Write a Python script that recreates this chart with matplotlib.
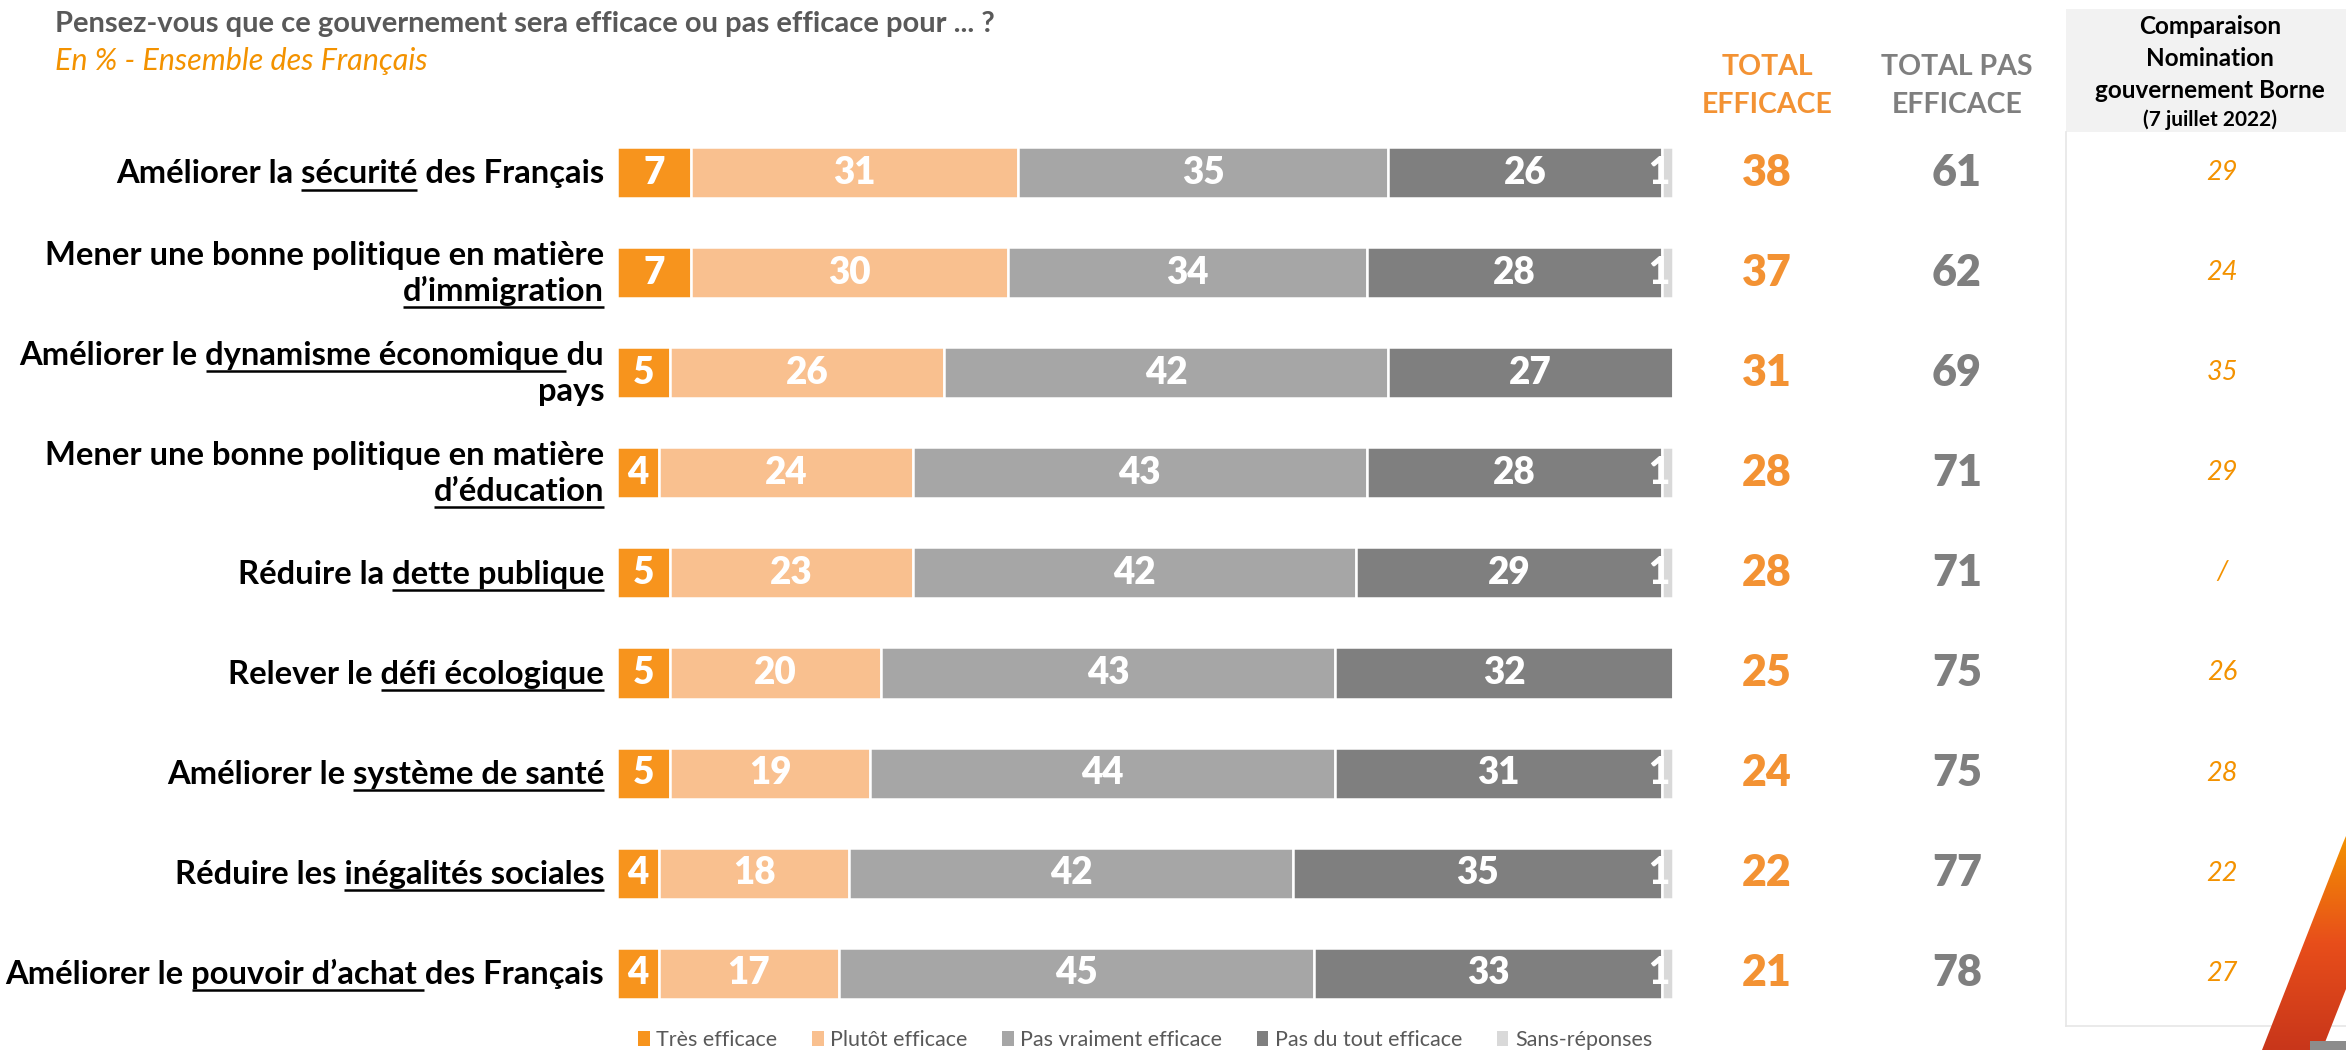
import matplotlib
matplotlib.use('Agg')
import matplotlib.pyplot as plt
import matplotlib.patches as mpatches
import matplotlib.transforms as mtransforms
from matplotlib.colors import LinearSegmentedColormap
import numpy as np

# Data (underscored part = underlined in the label, \n = line break)
categories = [
    "Améliorer la _sécurité_ des Français",
    "Mener une bonne politique en matière\n_d’immigration_",
    "Améliorer le _dynamisme économique _du\npays",
    "Mener une bonne politique en matière\n_d’éducation_",
    "Réduire la _dette publique_",
    "Relever le _défi écologique_",
    "Améliorer le _système de santé_",
    "Réduire les _inégalités sociales_",
    "Améliorer le _pouvoir d’achat _des Français",
]
tres_efficace = [7, 7, 5, 4, 5, 5, 5, 4, 4]
plutot_efficace = [31, 30, 26, 24, 23, 20, 19, 18, 17]
pas_vraiment = [35, 34, 42, 43, 42, 43, 44, 42, 45]
pas_du_tout = [26, 28, 27, 28, 29, 32, 31, 35, 33]
sans_reponse = [1, 1, 0, 1, 1, 0, 1, 1, 1]
total_efficace = [38, 37, 31, 28, 28, 25, 24, 22, 21]
total_pas_efficace = [61, 62, 69, 71, 71, 75, 75, 77, 78]
comparaison = ["29", "24", "35", "29", "/", "26", "28", "22", "27"]

series_names = ["Très efficace", "Plutôt efficace", "Pas vraiment efficace",
                "Pas du tout efficace", "Sans-réponses"]
series_colors = ["#f7941d", "#f9c08f", "#a6a6a6", "#7f7f7f", "#d9d9d9"]

FONT = ['Lato', 'DejaVu Sans']
ORANGE = '#f39233'
GREY_TXT = '#7f7f7f'

W, H = 2346, 1050
fig = plt.figure(figsize=(W / 100, H / 100), dpi=100)
fig.patch.set_facecolor('white')

# overlay axes in pixel coordinates for layout / text
ov = fig.add_axes([0, 0, 1, 1])
ov.set_xlim(0, W)
ov.set_ylim(H, 0)
ov.set_autoscale_on(False)
ov.axis('off')

# bar axes
ROW0, STEP = 172.5, 100.1
n = len(categories)
top = ROW0 - STEP / 2
bottom = ROW0 + STEP * (n - 0.5)
BAR_L, BAR_R = 617, 1673
ax = fig.add_axes([BAR_L / W, 1 - bottom / H, (BAR_R - BAR_L) / W, (bottom - top) / H])
ax.set_xlim(0, 100)
ax.set_ylim(n - 0.5, -0.5)
ax.axis('off')
ax.patch.set_alpha(0)

y = np.arange(n)
series = [tres_efficace, plutot_efficace, pas_vraiment, pas_du_tout, sans_reponse]
left = np.zeros(n)
containers = []
for name, vals, col in zip(series_names, series, series_colors):
    vals = np.array(vals, dtype=float)
    bc = ax.barh(y, vals, left=left, height=0.51, color=col, edgecolor='white',
                 linewidth=1.8, label=name, zorder=2)
    containers.append(bc)
    left = left + vals

# segment labels
SEG_SIZE = 26.5
SEG_WEIGHT = 'heavy'
left = np.zeros(n)
for k, vals in enumerate(series):
    for i, v in enumerate(vals):
        if v <= 0:
            continue
        if k == 4:
            t = ax.text(left[i] - 0.35, i, str(v), ha='center', va='center',
                        color='white', fontsize=SEG_SIZE, fontweight=SEG_WEIGHT,
                        family=FONT, zorder=3)
            t.set_clip_path(containers[3].patches[i])
        else:
            ax.text(left[i] + v / 2, i, str(v), ha='center', va='center',
                    color='white', fontsize=SEG_SIZE, fontweight=SEG_WEIGHT,
                    family=FONT, zorder=3)
        left[i] += v

# category labels with underlines
renderer = fig.canvas.get_renderer()
LBL_SIZE = 23.6
LBL_X = 604


def text_width(s):
    t = ov.text(0, 0, s, fontsize=LBL_SIZE, fontweight='bold', family=FONT)
    w = t.get_window_extent(renderer).width
    t.remove()
    return w


for i, cat in enumerate(categories):
    cy = ROW0 + STEP * i
    lines = cat.split('\n')
    if len(lines) == 1:
        baselines = [cy + 11]
    else:
        baselines = [cy - 8, cy + 28]
    for line, bl in zip(lines, baselines):
        parts = line.split('_')
        plain = ''.join(parts)
        ov.text(LBL_X, bl, plain, ha='right', va='baseline', fontsize=LBL_SIZE,
                fontweight='bold', family=FONT, color='black')
        if len(parts) == 3:
            a = len(parts[0])
            b = a + len(parts[1])
            wfull = text_width(plain)
            x0 = LBL_X - wfull
            u0 = LBL_X - text_width(plain[a:])
            if b >= len(plain):
                u1 = LBL_X
            elif plain[b - 1] == ' ':
                u1 = LBL_X - text_width(plain[b:]) - 1
            else:
                u1 = x0 + text_width(plain[:b])
            ov.plot([u0, u1], [bl + 6, bl + 6], color='black', lw=1.8,
                    solid_capstyle='butt')

# title / subtitle
ov.text(55, 32, "Pensez-vous que ce gouvernement sera efficace ou pas efficace pour ... ?",
        ha='left', va='baseline', fontsize=21, fontweight='bold',
        family=FONT, color='#595959')
ov.text(55, 70, "En % - Ensemble des Français", ha='left', va='baseline',
        fontsize=22, style='italic', family=FONT, color='#f39200')

# total columns
COL_EFF, COL_PAS, COL_CMP = 1767, 1957, 2222
tr = mtransforms.blended_transform_factory(ov.transData, ax.transData)
for txt, bl in [("TOTAL", 75), ("EFFICACE", 113)]:
    ov.text(COL_EFF, bl, txt, ha='center', va='baseline', fontsize=20.5,
            fontweight='bold', family=FONT, color=ORANGE)
for txt, bl in [("TOTAL PAS", 75), ("EFFICACE", 113)]:
    ov.text(COL_PAS, bl, txt, ha='center', va='baseline', fontsize=20.5,
            fontweight='bold', family=FONT, color=GREY_TXT)
for i in range(n):
    ax.text(COL_EFF, i, str(total_efficace[i]), transform=tr, ha='center',
            va='center', fontsize=31, fontweight='heavy', family=FONT, color=ORANGE)
    ax.text(COL_PAS, i, str(total_pas_efficace[i]), transform=tr, ha='center',
            va='center', fontsize=31, fontweight='heavy', family=FONT, color=GREY_TXT)
    ax.text(COL_CMP, i, comparaison[i], transform=tr, ha='center', va='center',
            fontsize=19.5, style='italic', family=FONT, color='#f39200')

# comparison panel
ov.add_patch(mpatches.Rectangle((2066, 9), W - 2066, 123, facecolor='#f2f2f2',
                                edgecolor='none', zorder=0))
ov.plot([2066, 2066], [132, 1026], color='#e6e6e6', lw=1.2, zorder=1)
ov.plot([2066, W], [1026, 1026], color='#e6e6e6', lw=1.2, zorder=1)
for txt, bl, fs in [("Comparaison", 34, 17.5), ("Nomination", 66, 17.5),
                    ("gouvernement Borne", 98, 17.5), ("(7 juillet 2022)", 126, 15)]:
    ov.text(2210, bl, txt, ha='center', va='baseline', fontsize=fs,
            fontweight='bold', family=FONT, color='black')

# decorative stripe bottom right
stripe = mpatches.Polygon([(2262, 1050), (2343, 843), (2346, 836), (2346, 989), (2322, 1050)],
                          closed=True, facecolor='none', edgecolor='none')
ov.add_patch(stripe)
grad = np.linspace(0, 1, 256).reshape(-1, 1)
cmap = LinearSegmentedColormap.from_list('stripe', ['#f39200', '#e84e1b', '#c8361a'])
im = ov.imshow(grad, extent=(2250, W, 1050, 836), cmap=cmap, aspect='auto',
               origin='upper', zorder=2)
im.set_clip_path(stripe)
ov.add_patch(mpatches.Rectangle((2310, 1041), W - 2310, 9, facecolor='#8c8c8c',
                                edgecolor='none', zorder=3))
ov.set_xlim(0, W)
ov.set_ylim(H, 0)

# legend
handles = [c.patches[0] for c in containers]
leg = fig.legend(handles, series_names, loc='center', ncol=5, frameon=False,
                 bbox_to_anchor=((BAR_L + BAR_R) / 2 / W, 1 - 1040 / H),
                 handlelength=0.55, handleheight=0.75, handletextpad=0.3,
                 columnspacing=1.6, prop={'family': FONT, 'size': 15.5})
for t in leg.get_texts():
    t.set_color('#595959')
for h in leg.legend_handles:
    h.set_edgecolor('none')

fig.savefig('out.png', dpi=100)
